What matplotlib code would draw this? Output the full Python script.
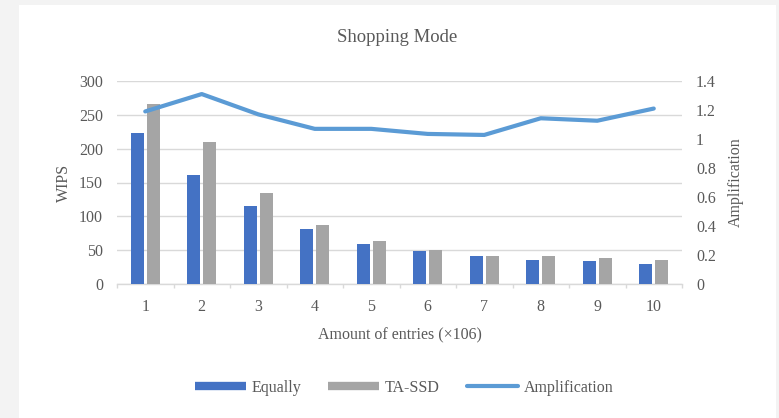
import matplotlib
matplotlib.use("Agg")
import matplotlib.pyplot as plt
from matplotlib.lines import Line2D
from matplotlib.patches import Rectangle
import numpy as np

categories = ["1", "2", "3", "4", "5", "6", "7", "8", "9", "10"]
equally = [223, 161, 115, 82, 59, 49, 41, 36, 34, 30]
ta_ssd = [266, 210, 134, 87, 64, 50, 42, 41, 38, 36]
amplification = [1.19, 1.31, 1.17, 1.07, 1.07, 1.035, 1.028, 1.143, 1.126, 1.21]
left_ticks = [0, 50, 100, 150, 200, 250, 300]
right_ticks = [0, 0.2, 0.4, 0.6, 0.8, 1.0, 1.2, 1.4]
right_labels = ["0", "0.2", "0.4", "0.6", "0.8", "1", "1.2", "1.4"]

plt.rcParams['font.family'] = ['Liberation Serif', 'DejaVu Serif']
TXT = '#595959'
GRID = '#d9d9d9'
C_EQ = '#4472c4'
C_TA = '#a5a5a5'
C_AMP = '#5b9bd5'
FS = 11.5

W, H = 779, 418
fig = plt.figure(figsize=(W / 100, H / 100), dpi=100, facecolor='#f3f3f3')
fig.patches.append(Rectangle((19 / W, 0), (776 - 19) / W, 1 - 5 / H,
                             transform=fig.transFigure, facecolor='white',
                             edgecolor='none', zorder=-10))

ax = fig.add_axes([117 / W, 1 - 284 / H, (682 - 117) / W, (284 - 81) / H])
ax.set_facecolor('none')
x = np.arange(1, len(categories) + 1)
bw = 0.225
off = 0.14
ax.bar(x - off, equally, width=bw, color=C_EQ, zorder=3)
ax.bar(x + off, ta_ssd, width=bw, color=C_TA, zorder=3)
ax.set_xlim(0.5, len(categories) + 0.5)
ax.set_ylim(0, 300)
ax.set_yticks(left_ticks)
ax.set_yticklabels([str(t) for t in left_ticks])
ax.grid(axis='y', color=GRID, linewidth=1.0, zorder=0)
ax.set_axisbelow(True)
for s in ['top', 'left', 'right']:
    ax.spines[s].set_visible(False)
ax.spines['bottom'].set_color(GRID)
ax.spines['bottom'].set_linewidth(1.0)
ax.set_xticks(x)
ax.set_xticklabels(categories)
ax.set_xticks(np.arange(0.5, len(categories) + 1, 1.0), minor=True)
ax.tick_params(axis='x', which='major', length=0, pad=11, labelsize=FS, labelcolor=TXT)
ax.tick_params(axis='x', which='minor', length=3, color=GRID, width=1.0)
ax.tick_params(axis='y', length=0, pad=10, labelsize=FS, labelcolor=TXT)
ax.set_ylabel('WIPS', fontsize=FS, color=TXT)
ax.yaxis.set_label_coords((72 - 117) / 565, 0.5)
ax.set_xlabel('Amount of entries (×106)', fontsize=FS, color=TXT)
ax.xaxis.set_label_coords(0.5, (284 - 327) / 203)

ax2 = ax.twinx()
ax2.plot(x, amplification, color=C_AMP, linewidth=3.0, solid_capstyle='round',
         solid_joinstyle='round', zorder=4)
ax2.set_ylim(0, 1.4)
ax2.set_yticks(right_ticks)
ax2.set_yticklabels(right_labels)
ax2.tick_params(axis='y', length=0, pad=10, labelsize=FS, labelcolor=TXT)
for s in ['top', 'left', 'right', 'bottom']:
    ax2.spines[s].set_visible(False)
ax2.set_ylabel('Amplification', fontsize=FS, color=TXT)
ax2.yaxis.set_label_coords((728 - 117) / 565, 0.5)

fig.text(397 / W, 1 - 38 / H, 'Shopping Mode', ha='center', va='center',
         fontsize=13.5, color=TXT)

handles = [
    Line2D([], [], color=C_EQ, linewidth=6, solid_capstyle='butt'),
    Line2D([], [], color=C_TA, linewidth=6, solid_capstyle='butt'),
    Line2D([], [], color=C_AMP, linewidth=3.0, solid_capstyle='round'),
]
leg = fig.legend(handles, ['Equally', 'TA-SSD', 'Amplification'], loc='center',
                 bbox_to_anchor=(404 / W, 1 - 388 / H), ncol=3, frameon=False,
                 fontsize=FS, handlelength=3.2, handletextpad=0.35,
                 columnspacing=1.7, labelcolor=TXT)

fig.savefig('out.png', dpi=100, facecolor=fig.get_facecolor())
